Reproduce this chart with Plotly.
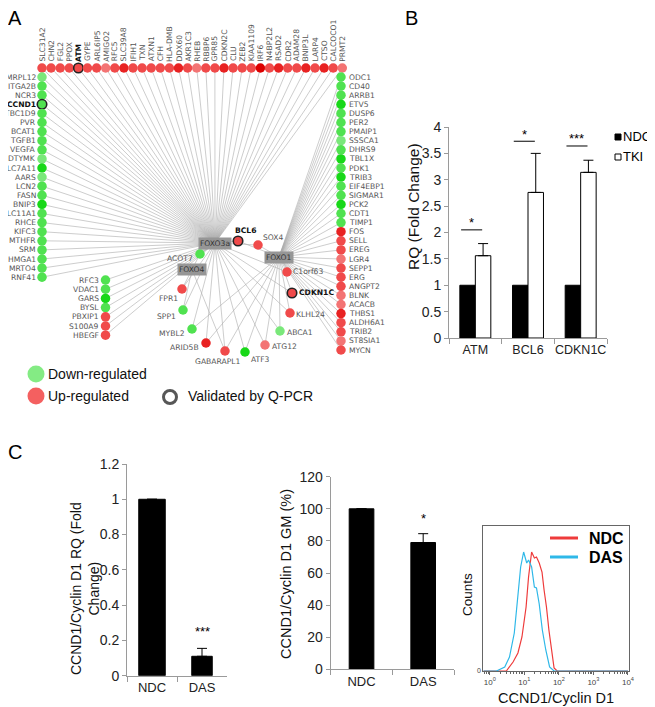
import plotly.graph_objects as go

# ---------------- data ----------------
# panel A network
top_genes = ["SLC31A2", "CHN2", "FGL2", "PPOX", "ATM", "GYPE", "ARL6IP5", "AMIGO2", "RFC5",
             "SLC39A8", "IFIH1", "TXN", "ATXN1", "CFH", "HLA-DMB", "DDX60", "AKR1C3", "RHEB",
             "RBBP6", "GPR85", "CDKN2C", "CLU", "ZEB2", "KIAA1109", "IRF6", "N4BP2L2", "RSAD2",
             "CDR2", "ADAM28", "BNIP3L", "LARP4", "CTSO", "CALCOCO1", "PRMT2"]
left_genes = ["MRPL12", "ITGA2B", "NCR3", "CCND1", "TBC1D9", "PVR", "BCAT1", "TGFB1", "VEGFA",
              "DTYMK", "SLC7A11", "AARS", "LCN2", "FASN", "BNIP3", "SLC11A1", "RHCE", "KIFC3",
              "MTHFR", "SRM", "HMGA1", "MRTO4", "RNF41"]
left2_genes = ["RFC3", "VDAC1", "GARS", "BYSL", "PBXIP1", "S100A9", "HBEGF"]
right_genes = ["ODC1", "CD40", "ARRB1", "ETV5", "DUSP6", "PER2", "PMAIP1", "SSSCA1", "DHRS9",
               "TBL1X", "PDK1", "TRIB3", "EIF4EBP1", "SIGMAR1", "PCK2", "CDT1", "TIMP1", "FOS",
               "SELL", "EREG", "LGR4", "SEPP1", "ERG", "ANGPT2", "BLNK", "ACACB", "THBS1",
               "ALDH6A1", "TRIB2", "ST8SIA1", "MYCN"]
inner_genes = ["ACOT7", "BCL6", "SOX4", "C1orf63", "CDKN1C", "KLHL24", "ABCA1", "ATG12", "ATF3",
               "GABARAPL1", "ARID5B", "MYBL2", "SPP1", "FPR1"]
hubs = ["FOXO3a", "FOXO4", "FOXO1"]

down_genes = set(left_genes + left2_genes[:4] + right_genes[:17] +
                 ["ACOT7", "ABCA1", "ATF3", "MYBL2", "SPP1"])
validated = ["ATM", "CCND1", "BCL6", "CDKN1C"]
strong_genes = ["SLC39A8", "DDX60", "CDKN2C", "RSAD2", "CTSO", "FOS", "THBS1", "SLC7A11", "BNIP3",
                "GARS", "ETV5", "TRIB3", "PCK2", "ATF3", "ARID5B", "BNIP3L", "TBL1X"]
deepest_genes = ["IRF6"]
light_genes = ["PRMT2", "AMIGO2", "RHEB", "LGR4", "BLNK", "ACACB", "ST8SIA1", "ABCA1", "DTYMK",
               "AARS", "ATG12", "MRPL12", "SSSCA1"]

inner_links = {
    "ACOT7": ["FOXO3a", "FOXO4"], "BCL6": ["FOXO3a", "FOXO1"], "SOX4": ["FOXO3a", "FOXO1"],
    "C1orf63": ["FOXO1", "FOXO3a"], "CDKN1C": ["FOXO1", "FOXO3a"], "KLHL24": ["FOXO1", "FOXO3a"],
    "ABCA1": ["FOXO1", "FOXO3a"], "ATG12": ["FOXO1", "FOXO3a"], "ATF3": ["FOXO1", "FOXO3a"],
    "GABARAPL1": ["FOXO1", "FOXO3a", "FOXO4"], "ARID5B": ["FOXO1", "FOXO3a"],
    "MYBL2": ["FOXO1", "FOXO3a"], "SPP1": ["FOXO4", "FOXO3a"], "FPR1": ["FOXO4", "FOXO3a"],
}

# panel B qPCR
b_genes = ["ATM", "BCL6", "CDKN1C"]
b_ndc = [1, 1, 1]
b_tki = [1.56, 2.76, 3.14]
b_tki_err = [0.23, 0.74, 0.23]
b_sig_y = [2.05, 3.73, 3.64]
b_sig = ["*", "*", "***"]

# panel C
c_groups = ["NDC", "DAS"]
c_rq = [1.0, 0.11]
c_rq_err = [0, 0.045]
c_gm = [100, 79]
c_gm_err = [0, 5.5]

hist_ndc_x = [0.65, 3.0, 4.7, 6.5, 8.5, 11.2, 13.2, 16.2, 19.5, 22.4, 26.9, 32.4, 37.2, 43.6,
              51.3, 61.7, 72.4, 89.1, 10000]
hist_ndc_y = [0, 0, 9, 18, 34, 64, 94, 119, 113, 114, 108, 99, 81, 64, 41, 18, 3, 0, 0]
hist_das_x = [0.65, 1.55, 2.7, 3.7, 5.1, 6.5, 7.8, 9.5, 11.7, 13.2, 16.2, 19.5, 22.4, 26.9,
              33.1, 41.7, 53.7, 72.4, 10000]
hist_das_y = [0, 0, 4, 14, 38, 74, 104, 119, 108, 111, 104, 84, 83, 67, 41, 21, 4, 0, 0]

# ---------------- layout helpers ----------------
# the page adds an 8px body margin, so the figure is sized to fit the window after it
OFF = 8
W, H = 655 - OFF, 707 - OFF
SANS = "Liberation Sans"
NET_FONT = "DejaVu Sans"


def px(x):
    return (x - OFF) / W


def py(y):
    return 1 - (y - OFF) / H


def dom_x(a, b):
    return [px(a), px(b)]


def dom_y(top, bottom):
    return [py(bottom), py(top)]


def node_color(g):
    if g in down_genes:
        if g in strong_genes:
            return "#18d818"
        if g in light_genes:
            return "#7ae87a"
        return "#50e250"
    if g in deepest_genes:
        return "#dc0000"
    if g in strong_genes:
        return "#e82222"
    if g in light_genes:
        return "#f37474"
    return "#f04a4a"


# node layout (pixel positions inside the network panel)
step = 9.1
pos = {}
for i, g in enumerate(top_genes):
    pos[g] = (42 + i * step, 68)
for i, g in enumerate(left_genes):
    pos[g] = (42, 77 + i * step)
for i, g in enumerate(left2_genes):
    pos[g] = (105.5, 280 + i * 9.2)
for i, g in enumerate(right_genes):
    pos[g] = (341, 77 + i * step)
hub_pos = {"FOXO3a": (215, 243), "FOXO4": (192, 269.5), "FOXO1": (279, 257)}
inner_pos = {"ACOT7": (200, 254), "BCL6": (238, 241), "SOX4": (258, 245), "C1orf63": (287, 272),
             "CDKN1C": (292, 293), "KLHL24": (290, 313), "ABCA1": (280, 331), "ATG12": (265, 345),
             "ATF3": (245, 352), "GABARAPL1": (225, 351), "ARID5B": (206, 343),
             "MYBL2": (192, 329), "SPP1": (183, 310), "FPR1": (182, 289)}
pos.update(inner_pos)
# label placement for inner nodes: (dx, dy, xanchor)
inner_lab = {"ACOT7": (-6, 4, "right"), "BCL6": (-4, -11, "left"), "SOX4": (4, -8, "left"),
             "C1orf63": (5, -1, "left"), "CDKN1C": (6, -1, "left"), "KLHL24": (5, 1, "left"),
             "ABCA1": (6, 1, "left"), "ATG12": (6, 1, "left"), "ATF3": (5, 7, "left"),
             "GABARAPL1": (-8, 10, "center"), "ARID5B": (-6, 4, "right"),
             "MYBL2": (-6, 4, "right"), "SPP1": (-6, 6, "right"), "FPR1": (-3, 9, "right")}

fig = go.Figure()

# ---- edges ----
ex, ey = [], []


def link(g, h):
    x0, y0 = pos[g]
    x1, y1 = hub_pos[h]
    ex.extend([x0, x1, None])
    ey.extend([y0, y1, None])


for g in top_genes + left_genes + left2_genes:
    link(g, "FOXO3a")
for g in right_genes:
    link(g, "FOXO1")
for g in inner_genes:
    for h in inner_links[g]:
        link(g, h)

fig.add_trace(go.Scatter(x=ex, y=ey, mode="lines", line=dict(color="#ababab", width=0.6),
                         hoverinfo="skip", showlegend=False, xaxis="x", yaxis="y"))

# ---- nodes ----
for group in [top_genes, left_genes, left2_genes, right_genes, inner_genes]:
    fig.add_trace(go.Scatter(
        x=[pos[g][0] for g in group], y=[pos[g][1] for g in group], mode="markers",
        marker=dict(size=9.5, color=[node_color(g) for g in group],
                    line=dict(color=["#222" if g in validated else "rgba(0,0,0,0)" for g in group],
                              width=[1.6 if g in validated else 0 for g in group])),
        text=group, hoverinfo="text", showlegend=False, cliponaxis=False, xaxis="x", yaxis="y"))


def net_label(g, x, y, xanchor="left", yanchor="middle", angle=0):
    bold = g in validated
    fig.add_annotation(x=x, y=y, xref="x", yref="y", showarrow=False, text=f"<b>{g}</b>" if bold else g,
                       xanchor=xanchor, yanchor=yanchor, textangle=angle, borderpad=0,
                       font=dict(family=NET_FONT, size=7.6, color="#111" if bold else "#555"))


for g in top_genes:
    net_label(g, pos[g][0], 62.5, xanchor="center", yanchor="bottom", angle=-90)
for g in left_genes:
    net_label(g, 36.5, pos[g][1], xanchor="right")
for g in left2_genes:
    net_label(g, 99.5, pos[g][1], xanchor="right")
for g in right_genes:
    net_label(g, 347.5, pos[g][1], xanchor="left")
for g in inner_genes:
    dx, dy, xa = inner_lab[g]
    net_label(g, pos[g][0] + dx, pos[g][1] + dy, xanchor=xa)

for h in hubs:
    fig.add_annotation(x=hub_pos[h][0], y=hub_pos[h][1], xref="x", yref="y", showarrow=False, text=h,
                       xanchor="center", yanchor="middle", bgcolor="#969696", borderpad=1,
                       font=dict(family=NET_FONT, size=7.6, color="#333"))

# ---- panel A legend ----
fig.add_trace(go.Scatter(x=[36, 36, 170], y=[374, 396, 397], mode="markers", hoverinfo="skip",
                         marker=dict(size=[17, 17, 13], color=["#50e250", "#f01c1c", "white"],
                                     line=dict(color=["rgba(0,0,0,0)", "rgba(0,0,0,0)", "#111"],
                                               width=[0, 0, 3])),
                         showlegend=False, cliponaxis=False, xaxis="x", yaxis="y"))
for txt, x, y in [("Down-regulated", 46, 374), ("Up-regulated", 46, 396), ("Validated by Q-PCR", 186, 396)]:
    fig.add_annotation(x=x, y=y, xref="x", yref="y", showarrow=False, text=txt, xanchor="left",
                       yanchor="middle", font=dict(family=SANS, size=14, color="#111"))

# ---- panel B ----
fig.add_trace(go.Bar(x=b_genes, y=b_ndc, offset=-0.294, width=0.294, marker=dict(color="black", line=dict(color="black", width=1)),
                     showlegend=False, xaxis="x2", yaxis="y2"))
fig.add_trace(go.Bar(x=b_genes, y=b_tki, offset=0, width=0.294, marker=dict(color="white", line=dict(color="black", width=1)),
                     error_y=dict(type="data", symmetric=False, array=b_tki_err, arrayminus=[0] * 3,
                                  color="black", thickness=1, width=5),
                     showlegend=False, xaxis="x2", yaxis="y2"))
for i, (yv, s) in enumerate(zip(b_sig_y, b_sig)):
    fig.add_shape(type="line", xref="x2", yref="y2", x0=i - 0.27, x1=i + 0.13, y0=yv, y1=yv,
                  line=dict(color="black", width=1))
    fig.add_annotation(x=i - 0.07, y=yv, xref="x2", yref="y2", text=s, showarrow=False, yshift=7,
                       xanchor="center", yanchor="middle", font=dict(family=SANS, size=13, color="black"))

# legend B
fig.add_shape(type="rect", xref="paper", yref="paper", x0=px(615), x1=px(621),
              y0=py(140), y1=py(134), fillcolor="black", line=dict(color="black", width=1))
fig.add_shape(type="rect", xref="paper", yref="paper", x0=px(615), x1=px(621),
              y0=py(160), y1=py(154), fillcolor="white", line=dict(color="black", width=1))
for txt, y in [("NDC", 137), ("TKI", 157)]:
    fig.add_annotation(x=px(622), y=py(y), xref="paper", yref="paper", text=txt, showarrow=False,
                       xanchor="left", yanchor="middle", borderpad=0,
                       font=dict(family=SANS, size=13, color="black"))

# ---- panel C bars ----
fig.add_trace(go.Bar(x=c_groups, y=c_rq, width=[0.53, 0.41], marker=dict(color="black", line=dict(color="black", width=1)),
                     error_y=dict(type="data", symmetric=False, array=c_rq_err, arrayminus=[0, 0],
                                  color="black", thickness=1, width=5),
                     showlegend=False, xaxis="x3", yaxis="y3"))
fig.add_annotation(x="DAS", y=c_rq[1] + c_rq_err[1], xref="x3", yref="y3", text="***", showarrow=False,
                   yshift=17, xanchor="center", yanchor="middle", font=dict(family=SANS, size=13, color="black"))

fig.add_trace(go.Bar(x=c_groups, y=c_gm, width=0.4, marker=dict(color="black", line=dict(color="black", width=1)),
                     error_y=dict(type="data", symmetric=False, array=c_gm_err, arrayminus=[0, 0],
                                  color="black", thickness=1, width=5),
                     showlegend=False, xaxis="x4", yaxis="y4"))
fig.add_annotation(x="DAS", y=c_gm[1] + c_gm_err[1], xref="x4", yref="y4", text="*", showarrow=False,
                   yshift=15, xanchor="center", yanchor="middle", font=dict(family=SANS, size=13, color="black"))

# ---- panel C histogram ----
fig.add_trace(go.Scatter(x=hist_ndc_x, y=hist_ndc_y, mode="lines", line=dict(color="#ee3b3b", width=1.2),
                         showlegend=False, xaxis="x5", yaxis="y5"))
fig.add_trace(go.Scatter(x=hist_das_x, y=hist_das_y, mode="lines", line=dict(color="#2fb8e8", width=1.2),
                         showlegend=False, xaxis="x5", yaxis="y5"))
for txt, col, y in [("NDC", "#ee3b3b", 538), ("DAS", "#2fb8e8", 557)]:
    fig.add_shape(type="line", xref="paper", yref="paper", x0=px(550), x1=px(578), y0=py(y), y1=py(y),
                  line=dict(color=col, width=3))
    fig.add_annotation(x=px(587), y=py(y), xref="paper", yref="paper", text=f"<b>{txt}</b>",
                       showarrow=False, xanchor="left", yanchor="middle",
                       font=dict(family=SANS, size=16, color="black"))

# ---- titles / panel letters ----
for txt, x, y in [("A", 15, 18), ("B", 411, 18), ("C", 15, 452)]:
    fig.add_annotation(x=px(x), y=py(y), xref="paper", yref="paper", text=txt, showarrow=False,
                       xanchor="center", yanchor="middle", font=dict(family=SANS, size=20, color="black"))
for txt, x, y, size in [("RQ (Fold Change)", 413, 207, 15.5),
                        ("CCND1/Cyclin D1 RQ (Fold<br>Change)", 85, 589, 14),
                        ("CCND1/Cyclin D1 GM (%)", 286, 574, 14.5),
                        ("Counts", 467, 595, 13.5)]:
    fig.add_annotation(x=px(x), y=py(y), xref="paper", yref="paper", text=txt, showarrow=False,
                       xanchor="center", yanchor="middle", textangle=-90,
                       font=dict(family=SANS, size=size, color="#111"))
fig.add_annotation(x=px(556), y=py(698), xref="paper", yref="paper", text="CCND1/Cyclin D1",
                   showarrow=False, xanchor="center", yanchor="middle",
                   font=dict(family=SANS, size=14.5, color="#111"))

# ---- axes ----
axis_common = dict(showline=True, linecolor="#9a9a9a", linewidth=1, ticks="outside", tickcolor="#9a9a9a",
                   showgrid=False, zeroline=False, automargin=False)
ytick_font = dict(family=SANS, size=14, color="#222")

minor_vals = [m * 10 ** d for d in range(-1, 4) for m in range(2, 10)]
fig.update_layout(
    template="none",
    width=W, height=H, margin=dict(l=0, r=0, t=0, b=0, autoexpand=False),
    paper_bgcolor="white", plot_bgcolor="white", barmode="overlay", showlegend=False,
    xaxis=dict(domain=dom_x(OFF, 360), range=[OFF, 360], visible=False, fixedrange=True, automargin=False),
    yaxis=dict(domain=dom_y(OFF, 410), range=[410, OFF], visible=False, fixedrange=True, automargin=False),
    xaxis2=dict(domain=dom_x(449, 607), anchor="y2", tickson="boundaries", ticklen=5, tickangle=0,
                tickfont=dict(family=SANS, size=12.5, color="#222"), **axis_common),
    yaxis2=dict(domain=dom_y(127, 338), anchor="x2", range=[0, 4], dtick=0.5, ticklen=4,
                tickfont=ytick_font, **axis_common),
    xaxis3=dict(domain=dom_x(127, 227), anchor="y3", tickson="boundaries", ticklen=5, tickangle=0,
                tickfont=dict(family=SANS, size=13, color="#222"), **axis_common),
    yaxis3=dict(domain=dom_y(464, 675.7), anchor="x3", range=[0, 1.2], dtick=0.2, ticklen=4,
                tickfont=ytick_font, **axis_common),
    xaxis4=dict(domain=dom_x(330.7, 454), anchor="y4", tickson="boundaries", ticklen=5, tickangle=0,
                tickfont=dict(family=SANS, size=13, color="#222"), **axis_common),
    yaxis4=dict(domain=dom_y(476.7, 669.3), anchor="x4", range=[0, 120], dtick=20, ticklen=4,
                tickfont=ytick_font, **axis_common),
    xaxis5=dict(domain=dom_x(483.3, 629), anchor="y5", type="log", range=[-0.19, 4.03], tickangle=0,
                showline=True, mirror=True, linecolor="#666", linewidth=1.2, showgrid=False, zeroline=False,
                ticks="outside", ticklen=3, tickcolor="#666", automargin=False,
                tickvals=[1, 10, 100, 1000, 10000],
                ticktext=["10<sup>0</sup>", "10<sup>1</sup>", "10<sup>2</sup>", "10<sup>3</sup>", "10<sup>4</sup>"],
                tickfont=dict(family=SANS, size=8, color="#444"),
                minor=dict(tickvals=minor_vals, ticks="outside", ticklen=2, tickcolor="#666", showgrid=False)),
    yaxis5=dict(domain=dom_y(526, 671), anchor="x5", range=[0, 145], showline=True, mirror=True,
                linecolor="#666", linewidth=1.2, showgrid=False, zeroline=False, tickvals=[0],
                ticks="", automargin=False, tickfont=dict(family=SANS, size=7, color="#444")),
)

fig.write_html("out.html")
